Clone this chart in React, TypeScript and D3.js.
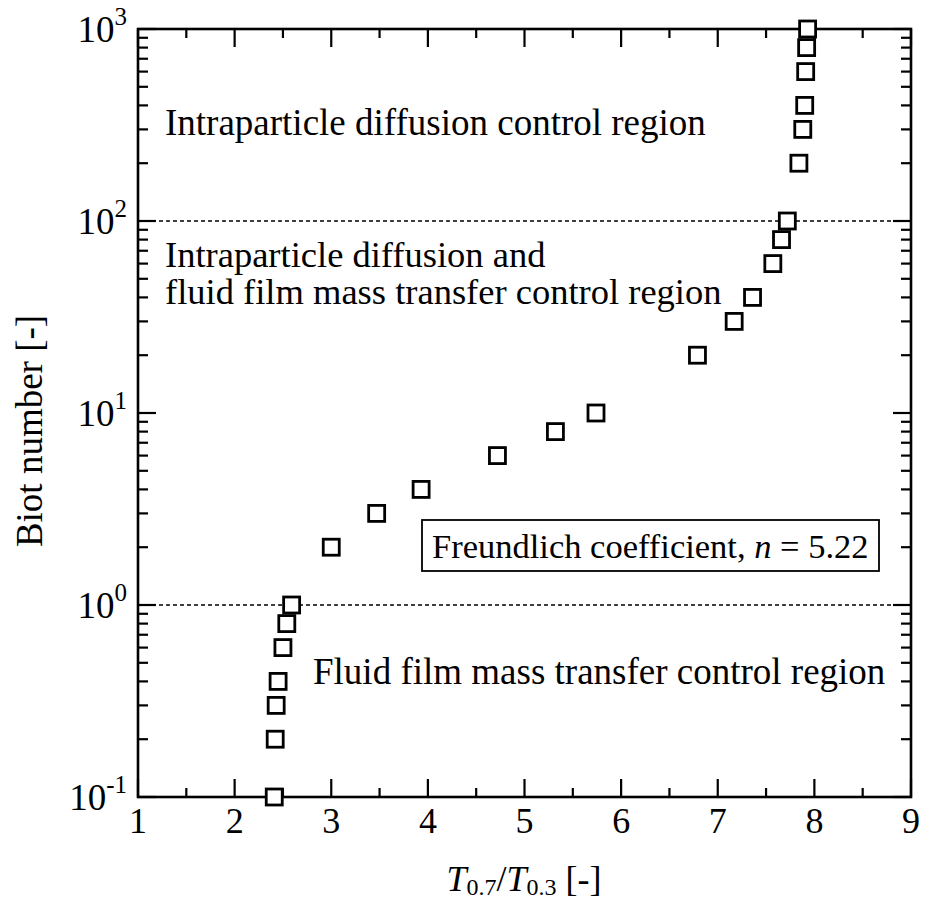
import React from "react";
import * as d3 from "d3";

const ratioValues = [2.41, 2.42, 2.43, 2.45, 2.5, 2.54, 2.59, 3.0, 3.47, 3.93, 4.72, 5.32, 5.74, 6.79, 7.17, 7.36, 7.57, 7.66, 7.72, 7.84, 7.88, 7.9, 7.91, 7.92, 7.93];
const biotValues = [0.1, 0.2, 0.3, 0.4, 0.6, 0.8, 1, 2, 3, 4, 6, 8, 10, 20, 30, 40, 60, 80, 100, 200, 300, 400, 600, 800, 1000];
const xTickValues = [1, 2, 3, 4, 5, 6, 7, 8, 9];
const yDecadeExponents = [-1, 0, 1, 2, 3];
const boundaryValues = [1, 100];

const W = 925;
const H = 906;
const left = 138;
const right = 911;
const top = 29;
const bottom = 797;
const FONT = '"Liberation Serif", "DejaVu Serif", serif';

export default function App() {
  const x = d3.scaleLinear().domain([1, 9]).range([left, right]);
  const y = d3.scaleLog().domain([0.1, 1000]).range([bottom, top]);

  const xMinor = d3.range(1.5, 9, 1);
  const yMinor: number[] = [];
  for (const e of [-1, 0, 1, 2]) {
    for (let m = 2; m <= 9; m++) yMinor.push(m * Math.pow(10, e));
  }
  const sq = 16;
  const ts = { fontFamily: FONT };

  return (
    <svg width={W} height={H} style={{ position: "absolute", left: 0, top: 0, background: "#fff", fontFamily: FONT }}>
      <rect x={0} y={0} width={W} height={H} fill="#fff" />
      {boundaryValues.map((v) => (
        <line key={v} x1={left} x2={right} y1={y(v)} y2={y(v)} stroke="#000" strokeWidth={1.6} strokeDasharray="4 3" />
      ))}
      {xTickValues.map((v) => (
        <g key={"xt" + v}>
          <line x1={x(v)} x2={x(v)} y1={bottom} y2={bottom - 18} stroke="#000" strokeWidth={2.2} />
          <line x1={x(v)} x2={x(v)} y1={top} y2={top + 18} stroke="#000" strokeWidth={2.2} />
        </g>
      ))}
      {xMinor.map((v) => (
        <g key={"xm" + v}>
          <line x1={x(v)} x2={x(v)} y1={bottom} y2={bottom - 9} stroke="#000" strokeWidth={2.2} />
          <line x1={x(v)} x2={x(v)} y1={top} y2={top + 9} stroke="#000" strokeWidth={2.2} />
        </g>
      ))}
      {yDecadeExponents.map((e) => {
        const v = Math.pow(10, e);
        return (
          <g key={"yt" + e}>
            <line x1={left} x2={left + 18} y1={y(v)} y2={y(v)} stroke="#000" strokeWidth={2.2} />
            <line x1={right} x2={right - 18} y1={y(v)} y2={y(v)} stroke="#000" strokeWidth={2.2} />
          </g>
        );
      })}
      {yMinor.map((v, i) => (
        <g key={"ym" + i}>
          <line x1={left} x2={left + 10} y1={y(v)} y2={y(v)} stroke="#000" strokeWidth={2.2} />
          <line x1={right} x2={right - 10} y1={y(v)} y2={y(v)} stroke="#000" strokeWidth={2.2} />
        </g>
      ))}
      <rect x={left} y={top} width={right - left} height={bottom - top} fill="none" stroke="#000" strokeWidth={2.6} />
      {xTickValues.map((v) => (
        <text key={"xl" + v} x={x(v)} y={833} fontSize={36} textAnchor="middle" fill="#000" style={ts}>
          {v}
        </text>
      ))}
      {yDecadeExponents.map((e) => (
        <text key={"yl" + e} x={127} y={y(Math.pow(10, e)) + 13} fontSize={37} textAnchor="end" fill="#000" style={ts}>
          10
          <tspan fontSize={25} dy={-17}>
            {e}
          </tspan>
        </text>
      ))}
      {ratioValues.map((v, i) => (
        <rect
          key={"p" + i}
          x={x(v) - sq / 2}
          y={y(biotValues[i]) - sq / 2}
          width={sq}
          height={sq}
          fill="#fff"
          stroke="#000"
          strokeWidth={2.8}
        />
      ))}
      <text x={165} y={135} fontSize={37} fill="#000" style={ts}>Intraparticle diffusion control region</text>
      <text x={165} y={267} fontSize={36.5} fill="#000" style={ts}>Intraparticle diffusion and</text>
      <text x={165} y={304} fontSize={36.5} fill="#000" style={ts}>fluid film mass transfer control region</text>
      <text x={313} y={684} fontSize={37} fill="#000" style={ts}>Fluid film mass transfer control region</text>
      <rect x={422} y={520} width={457} height={51} fill="#fff" stroke="#000" strokeWidth={1.8} />
      <text x={432} y={558} fontSize={34.5} fill="#000" style={ts}>
        Freundlich coefficient, <tspan fontStyle="italic">n</tspan> = 5.22
      </text>
      <text x={524} y={891} fontSize={36} textAnchor="middle" fill="#000" style={ts}>
        <tspan fontStyle="italic">T</tspan>
        <tspan fontSize={24} dy={4}>0.7</tspan>
        <tspan dy={-4}>/</tspan>
        <tspan fontStyle="italic">T</tspan>
        <tspan fontSize={24} dy={4}>0.3</tspan>
        <tspan dy={-4}> [-]</tspan>
      </text>
      <text transform={`translate(42, ${(top + bottom) / 2 + 18}) rotate(-90)`} fontSize={37} textAnchor="middle" fill="#000" style={ts}>
        Biot number [-]
      </text>
    </svg>
  );
}
